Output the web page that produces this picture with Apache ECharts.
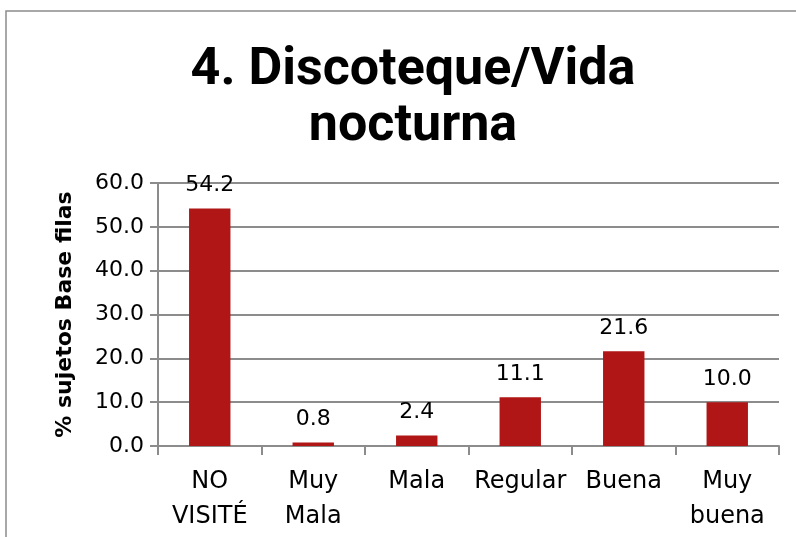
<!DOCTYPE html>
<html>
<head>
<meta charset="utf-8">
<script src="https://cdn.jsdelivr.net/npm/echarts@6/dist/echarts.min.js"></script>
<style>
html, body { margin: 0; padding: 0; background: #fff; }
#chart { width: 796px; height: 537px; }
</style>
</head>
<body>
<div id="chart"></div>
<script>
var categories = ["NO VISITÉ", "Muy Mala", "Mala", "Regular", "Buena", "Muy buena"];
var values = [54.2, 0.8, 2.4, 11.1, 21.6, 10.0];
var titleText = "4. Discoteque/Vida\nnocturna";
var yName = "% sujetos Base filas";

var chart = echarts.init(document.getElementById('chart'), null, {renderer: 'canvas'});
var option = {
  animation: false,
  backgroundColor: '#ffffff',
  title: {
    text: titleText,
    left: 408,
    top: 38,
    textAlign: 'center',
    textStyle: {
      fontFamily: 'Roboto',
      fontWeight: 'bold',
      fontSize: 52,
      lineHeight: 56,
      color: '#000'
    }
  },
  graphic: [{
    type: 'rect',
    shape: {x: 6, y: 11, width: 900, height: 900},
    style: {fill: 'none', stroke: '#8c8c8c', lineWidth: 1.5},
    silent: true
  }],
  grid: {left: 158, right: 17, top: 183, bottom: 91},
  xAxis: {
    type: 'category',
    data: categories,
    axisLine: {lineStyle: {color: '#8c8c8c', width: 2}},
    axisTick: {show: true, length: 9, lineStyle: {color: '#8c8c8c', width: 2}},
    axisLabel: {
      interval: 0,
      margin: 18,
      fontFamily: 'DejaVu Sans',
      fontSize: 24,
      lineHeight: 35,
      color: '#000',
      formatter: function (v) { return v.replace(' ', '\n'); }
    }
  },
  yAxis: {
    type: 'value',
    min: 0,
    max: 60,
    interval: 10,
    name: yName,
    nameLocation: 'middle',
    nameGap: 82,
    nameTextStyle: {fontFamily: 'DejaVu Sans', fontWeight: 'bold', fontSize: 22, color: '#000'},
    axisLine: {show: true, lineStyle: {color: '#8c8c8c', width: 2}},
    axisTick: {show: true, length: 8, lineStyle: {color: '#8c8c8c', width: 2}},
    splitLine: {lineStyle: {color: '#8c8c8c', width: 2}},
    axisLabel: {
      margin: 14,
      fontFamily: 'DejaVu Sans',
      fontSize: 22,
      color: '#000',
      formatter: function (v) { return v.toFixed(1); }
    }
  },
  series: [{
    type: 'bar',
    data: values,
    barWidth: '40%',
    itemStyle: {color: '#b01616'},
    label: {
      show: true,
      position: 'top',
      distance: 12,
      fontFamily: 'DejaVu Sans',
      fontSize: 22,
      color: '#000',
      formatter: function (p) { return p.value.toFixed(1); }
    }
  }]
};
chart.setOption(option);
</script>
</body>
</html>
